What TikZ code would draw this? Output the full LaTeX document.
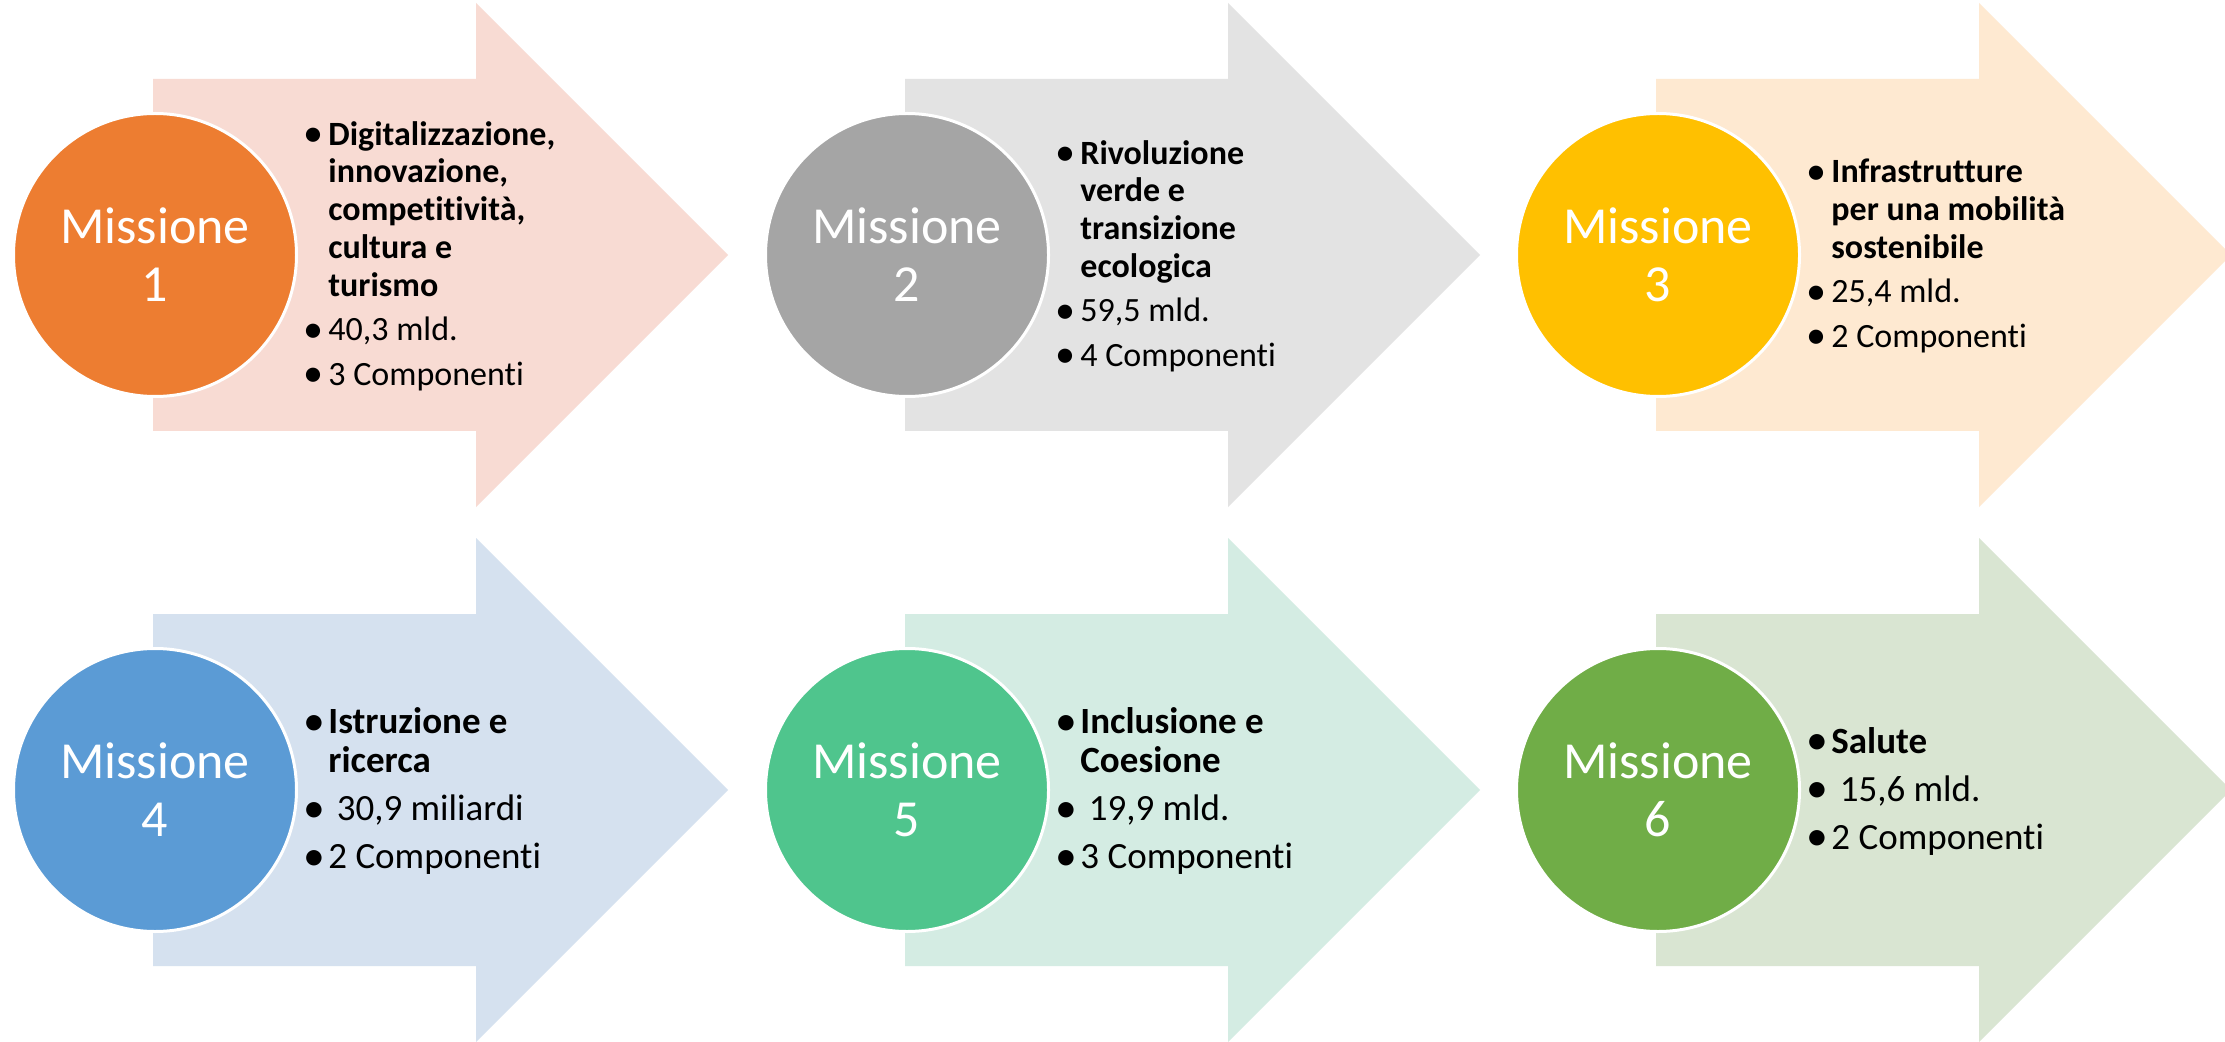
\documentclass[tikz,border=0pt]{standalone}
\usepackage{fontspec}
\setmainfont{Carlito}[Ligatures={NoCommon}]
\definecolor{c1}{HTML}{ED7D31}\definecolor{a1}{HTML}{F8DBD3}
\definecolor{c2}{HTML}{A5A5A5}\definecolor{a2}{HTML}{E3E3E3}
\definecolor{c3}{HTML}{FFC000}\definecolor{a3}{HTML}{FEE9D1}
\definecolor{c4}{HTML}{5B9BD5}\definecolor{a4}{HTML}{D5E1EF}
\definecolor{c5}{HTML}{4FC58D}\definecolor{a5}{HTML}{D4ECE3}
\definecolor{c6}{HTML}{70AD47}\definecolor{a6}{HTML}{D9E5D2}
\newcommand\bl{\makebox[11pt][l]{\hspace{-1.5pt}\raisebox{-0.05em}{\scalebox{1.18}{•}}}}
\newcommand\ind{\hspace*{11pt}}
\newcommand\missarrow[3]{%
  \fill[#3] (#1,#2-176) -- (#1+323,#2-176) -- (#1+323,#2-252) -- (#1+575,#2)
    -- (#1+323,#2+252) -- (#1+323,#2+176) -- (#1,#2+176) -- cycle;}
\tikzset{
  circ/.style={circle, draw=white, line width=1.5pt, minimum size=141.5pt, inner sep=0pt,
    text=white, align=center, font=\fontsize{26}{29}\selectfont},
  txtA/.style={anchor=west, inner sep=0pt, align=left, text=black,
    font=\fontsize{17}{18.85}\selectfont},
  txtB/.style={anchor=west, inner sep=0pt, align=left, text=black,
    font=\fontsize{18.5}{19.8}\selectfont},
}
\begin{document}
\begin{tikzpicture}[x=0.5pt,y=-0.5pt]
\clip (0,0) rectangle (2225,1042);
\fill[white] (0,0) rectangle (2225,1042);
\missarrow{153}{255}{a1}
\missarrow{905}{255}{a2}
\missarrow{1656}{255}{a3}
\missarrow{153}{790}{a4}
\missarrow{905}{790}{a5}
\missarrow{1656}{790}{a6}
\node[circ, fill=c1] (m1) at (155,255) {Missione\\1};
\node[circ, fill=c2] (m2) at (907,255) {Missione\\2};
\node[circ, fill=c3] (m3) at (1658,255) {Missione\\3};
\node[circ, fill=c4] (m4) at (155,790) {Missione\\4};
\node[circ, fill=c5] (m5) at (907,790) {Missione\\5};
\node[circ, fill=c6] (m6) at (1658,790) {Missione\\6};
\node[txtA] (t1) at (306,256) {\bl\textbf{Digitalizzazione,}\\
  \ind\textbf{innovazione,}\\
  \ind\textbf{competitività,}\\
  \ind\textbf{cultura e}\\
  \ind\textbf{turismo}\\[3.4pt]
  \bl 40,3 mld.\\[3.4pt]
  \bl 3 Componenti};
\node[txtA] (t2) at (1058,256) {\bl\textbf{Rivoluzione}\\
  \ind\textbf{verde e}\\
  \ind\textbf{transizione}\\
  \ind\textbf{ecologica}\\[3.4pt]
  \bl 59,5 mld.\\[3.4pt]
  \bl 4 Componenti};
\node[txtA] (t3) at (1809,256) {\bl\textbf{Infrastrutture}\\
  \ind\textbf{per una mobilità}\\
  \ind\textbf{sostenibile}\\[3.4pt]
  \bl 25,4 mld.\\[3.4pt]
  \bl 2 Componenti};
\node[txtB] (t4) at (306,791) {\bl\textbf{Istruzione e}\\
  \ind\textbf{ricerca}\\[4.2pt]
  \bl\ 30,9 miliardi\\[4.2pt]
  \bl 2 Componenti};
\node[txtB] (t5) at (1058,791) {\bl\textbf{Inclusione e}\\
  \ind\textbf{Coesione}\\[4.2pt]
  \bl\ 19,9 mld.\\[4.2pt]
  \bl 3 Componenti};
\node[txtB] (t6) at (1809,791) {\bl\textbf{Salute}\\[4.2pt]
  \bl\ 15,6 mld.\\[4.2pt]
  \bl 2 Componenti};
\end{tikzpicture}
\end{document}
